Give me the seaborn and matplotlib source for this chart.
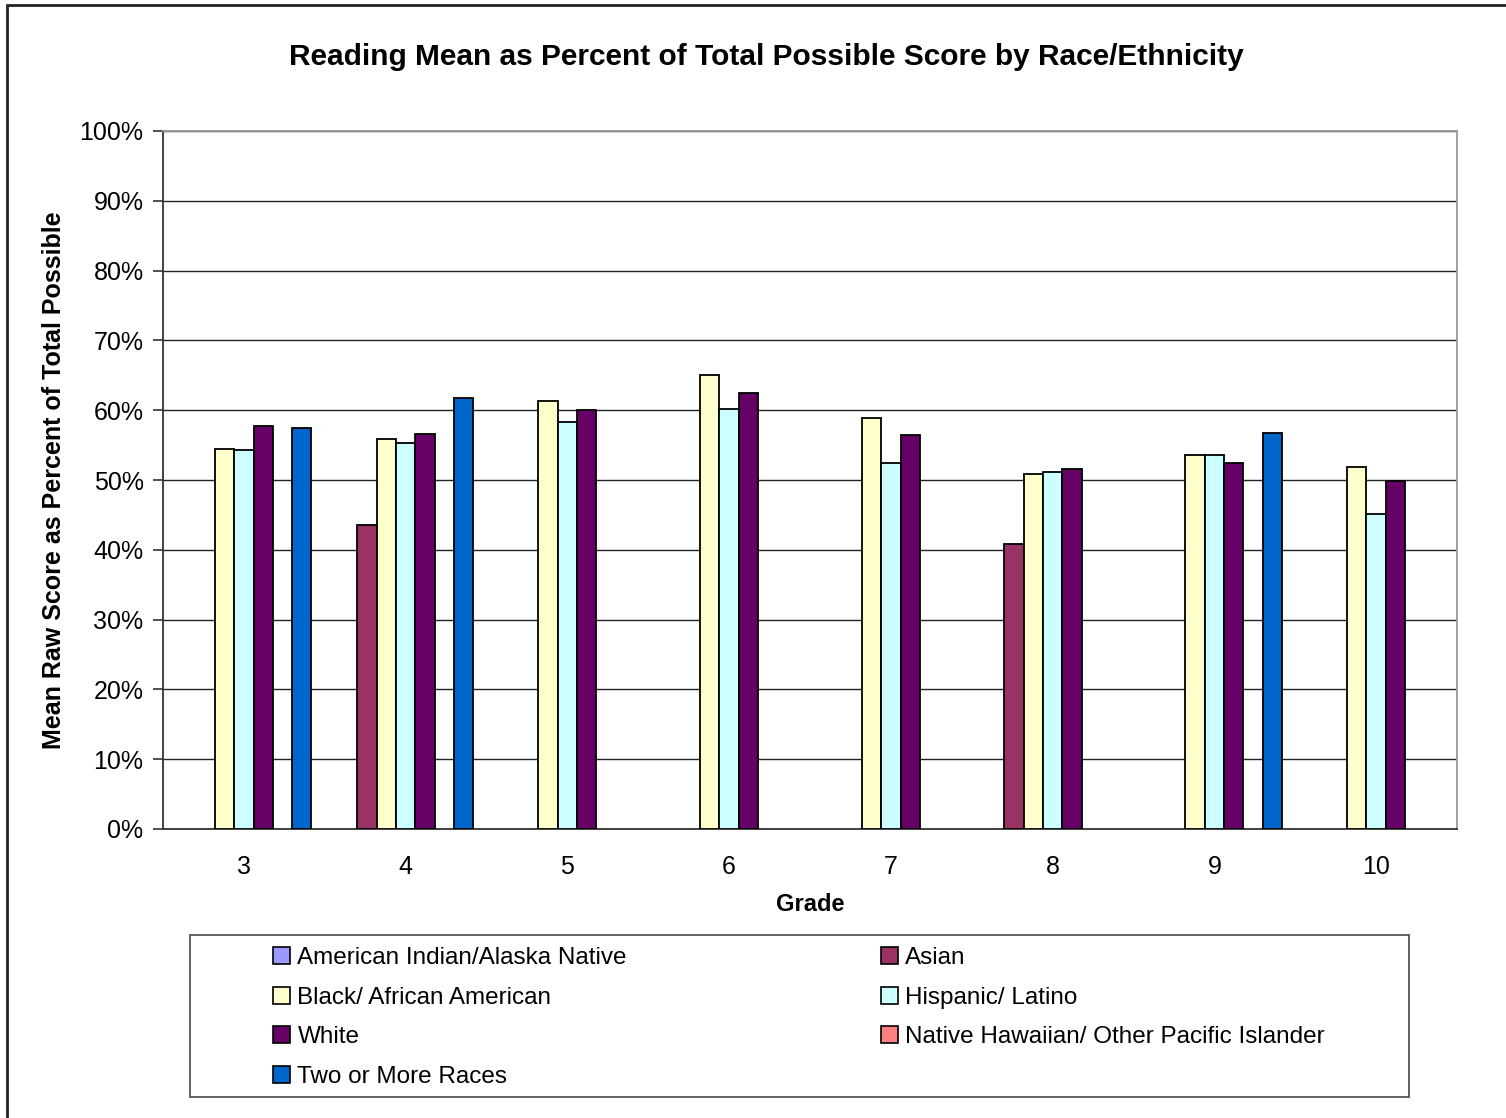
import numpy as np
import pandas as pd
import matplotlib
matplotlib.use("Agg")
import matplotlib.pyplot as plt
from matplotlib.patches import Patch, Rectangle
from matplotlib.ticker import FixedLocator, PercentFormatter
import seaborn as sns

# data (percent of total possible score)
grades = ["3", "4", "5", "6", "7", "8", "9", "10"]
groups = [
    "American Indian/Alaska Native",
    "Asian",
    "Black/ African American",
    "Hispanic/ Latino",
    "White",
    "Native Hawaiian/ Other Pacific Islander",
    "Two or More Races",
]
american_indian = [np.nan] * 8
asian = [np.nan, 43.5, np.nan, np.nan, np.nan, 40.9, np.nan, np.nan]
black = [54.4, 55.9, 61.3, 65.0, 58.9, 50.8, 53.6, 51.9]
hispanic = [54.3, 55.3, 58.3, 60.2, 52.5, 51.2, 53.6, 45.2]
white = [57.8, 56.6, 60.0, 62.4, 56.4, 51.6, 52.5, 49.9]
native_hawaiian = [np.nan] * 8
two_or_more = [57.5, 61.7, np.nan, np.nan, np.nan, np.nan, 56.7, np.nan]

colors = ["#9999FF", "#993366", "#FFFFCC", "#CCFFFF", "#660066", "#FF8080", "#0066CC"]

series = [american_indian, asian, black, hispanic, white, native_hawaiian, two_or_more]
rows = []
for name, vals in zip(groups, series):
    for g, v in zip(grades, vals):
        rows.append({"Grade": g, "Group": name, "Score": v})
df = pd.DataFrame(rows)

sns.set_style("white")
plt.rcParams["font.family"] = ["Liberation Sans", "DejaVu Sans"]
plt.rcParams["text.color"] = "black"
plt.rcParams["axes.labelcolor"] = "black"
plt.rcParams["xtick.color"] = "black"
plt.rcParams["ytick.color"] = "black"

fig = plt.figure(figsize=(15.06, 11.18), dpi=100)
W, H = 1506, 1118
ax = fig.add_axes([163 / W, 1 - 829 / H, (1457 - 163) / W, (829 - 131) / H])

plot_df = df.dropna()
sns.barplot(data=plot_df, x="Grade", y="Score", hue="Group", order=grades,
            hue_order=groups, palette=dict(zip(groups, colors)), saturation=1,
            width=0.836, gap=0, edgecolor="black", linewidth=1.3, errorbar=None,
            legend=False, ax=ax, zorder=3)

ax.set_xlim(-0.5, len(grades) - 0.5)
ax.set_ylim(0, 100)
ax.yaxis.set_major_locator(FixedLocator(np.arange(0, 101, 10)))
ax.yaxis.set_major_formatter(PercentFormatter(decimals=0))
ax.grid(axis="y", color="#222222", linewidth=1.0, zorder=0)
ax.set_axisbelow(True)

ax.xaxis.set_minor_locator(FixedLocator(np.arange(-0.5, len(grades), 1.0)))
ax.tick_params(axis="x", which="major", length=0, pad=19, labelsize=18)
ax.tick_params(axis="x", which="minor", length=7, width=1.2, color="#333333", direction="out")
ax.tick_params(axis="y", which="major", length=7, width=1.2, color="#333333",
               direction="out", left=True, labelsize=18, pad=7)

for side in ["left", "bottom"]:
    ax.spines[side].set_color("#333333")
    ax.spines[side].set_linewidth(1.3)
for side in ["top", "right"]:
    ax.spines[side].set_color("#999999")
    ax.spines[side].set_linewidth(1.3)

ax.set_xlabel("Grade", fontsize=17, fontweight="bold", labelpad=10)
ax.set_ylabel("Mean Raw Score as Percent of Total Possible", fontsize=18,
              fontweight="bold", labelpad=10)

fig.text(766 / W, 1 - 57 / H, "Reading Mean as Percent of Total Possible Score by Race/Ethnicity",
         ha="center", va="center", fontsize=21.5, fontweight="bold")

# outer chart border (only top and left edges visible)
fig.patches.append(Rectangle((7 / W, -0.1), 1.2, 1 - 5 / H + 0.1, transform=fig.transFigure,
                             fill=False, edgecolor="#222222", linewidth=2))

# legend box
fig.patches.append(Rectangle((190 / W, 1 - 1097 / H), (1409 - 190) / W, (1097 - 935) / H,
                             transform=fig.transFigure, fill=False, edgecolor="#555555",
                             linewidth=1.3))

legend_order = [0, 2, 4, 6, 1, 3, 5]
handles = [Patch(facecolor=colors[i], edgecolor="black", linewidth=1.2) for i in legend_order]
labels = [groups[i] for i in legend_order]
fig.legend(handles, labels, loc="upper left", bbox_to_anchor=(261 / W, 1 - 935 / H),
           ncol=2, frameon=False, fontsize=17.5, handlelength=0.7, handleheight=0.7,
           handletextpad=0.3, columnspacing=10.45, labelspacing=0.72, borderpad=0)

fig.savefig("out.png", dpi=100)
